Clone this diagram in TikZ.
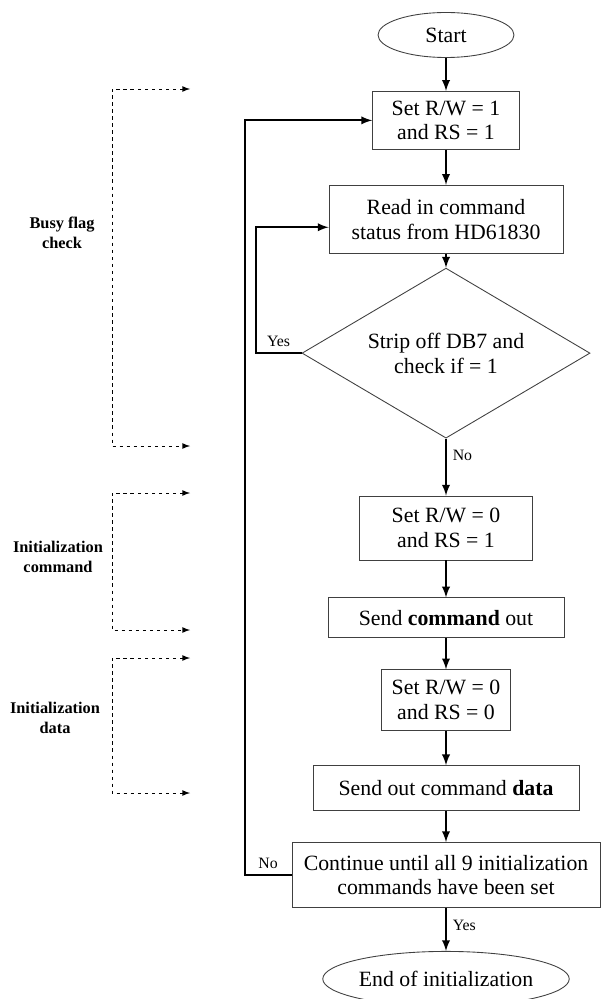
\documentclass[tikz,border=0pt]{standalone}
\usepackage{fontspec}
\setmainfont{Liberation Serif}
\usetikzlibrary{positioning,shapes.geometric}

\begin{document}
\begin{tikzpicture}[
  every node/.style={font=\fontsize{12.4}{14.2}\selectfont},
  %  Définition des styles pour les cadres
  boite_style/.style={rectangle, draw=black!75, line width=0.5pt, inner sep=2pt, align=center},
  ovale_style/.style={ellipse, draw=black!75, line width=0.5pt, inner sep=0pt},
  test_style/.style={diamond, draw=black!75, line width=0.5pt, inner sep=0pt, aspect=1.7, align=center},
  %  Styles des liaisons et des étiquettes
  fleche_style/.style={draw, line width=1.1pt, -latex},
  pointille_style/.style={draw, line width=0.5pt, dash pattern=on 2pt off 2pt, latex-latex},
  oui_non_style/.style={font=\fontsize{9}{10}\selectfont},
  groupe_style/.style={font=\fontsize{9.3}{11.4}\selectfont\bfseries, align=center}
]
\useasboundingbox (0,0) rectangle (12,-19.98);

%  Colonne principale
\node[ovale_style, minimum width=2.72cm, minimum height=0.9cm] (start) at (8.92,-0.70) {Start};
\node[boite_style, minimum width=2.94cm, minimum height=1.16cm, below=0.66cm of start] (setone) {Set R/W = 1\\and RS = 1};
\node[boite_style, minimum width=4.68cm, minimum height=1.36cm, below=0.70cm of setone] (readstatus) {Read in command\\status from HD61830};
\node[test_style, minimum width=5.76cm, minimum height=3.40cm, below=0.28cm of readstatus] (check) {Strip off DB7 and\\check if = 1};
\node[boite_style, minimum width=3.46cm, minimum height=1.28cm, below=1.14cm of check] (setcmd) {Set R/W = 0\\and RS = 1};
\node[boite_style, minimum width=4.72cm, minimum height=0.80cm, below=0.74cm of setcmd] (sendcmd) {Send \textbf{command} out};
\node[boite_style, minimum width=2.58cm, minimum height=1.22cm, below=0.62cm of sendcmd] (setdata) {Set R/W = 0\\and RS = 0};
\node[boite_style, minimum width=5.32cm, minimum height=0.90cm, below=0.68cm of setdata] (senddata) {Send out command \textbf{data}};
\node[boite_style, minimum width=6.16cm, minimum height=1.30cm, below=0.62cm of senddata] (allcmds) {Continue until all 9 initialization\\commands have been set};
\node[ovale_style, minimum width=4.14cm, minimum height=1.10cm, below=0.86cm of allcmds] (finish) {End of initialization};

%  Liaisons
\draw[fleche_style] (start) -- (setone);
\draw[fleche_style] (setone) -- (readstatus);
\draw[fleche_style] (readstatus) -- (check);
\draw[fleche_style] (check) -- node[oui_non_style, right, pos=0.3] {No} (setcmd);
\draw[fleche_style] (setcmd) -- (sendcmd);
\draw[fleche_style] (sendcmd) -- (setdata);
\draw[fleche_style] (setdata) -- (senddata);
\draw[fleche_style] (senddata) -- (allcmds);
\draw[fleche_style] (allcmds) -- node[oui_non_style, right, pos=0.4] {Yes} (finish);

%  Boucles de retour
\draw[fleche_style] (check.west) -- ++(-0.92,0) node[oui_non_style, above, midway] {Yes}
    |- ([yshift=-0.16cm]readstatus.west);
\draw[fleche_style] (allcmds.west) -- ++(-0.94,0) node[oui_non_style, above, midway] {No}
    |- (setone.west);

%  Groupes à gauche
\node[groupe_style] (busy) at (1.24,-4.66) {Busy flag\\check};
\coordinate (busy_haut) at (3.80,-1.78);
\coordinate (busy_coin_haut) at (2.24,-1.78);
\coordinate (busy_coin_bas) at (2.24,-8.92);
\coordinate (busy_bas) at (3.80,-8.92);
\draw[pointille_style] (busy_haut) -- (busy_coin_haut) -- (busy_coin_bas) -- (busy_bas);

\node[groupe_style] (initcmd) at (1.16,-11.14) {Initialization\\command};
\coordinate (cmd_haut) at (3.80,-9.86);
\coordinate (cmd_coin_haut) at (2.24,-9.86);
\coordinate (cmd_coin_bas) at (2.24,-12.60);
\coordinate (cmd_bas) at (3.80,-12.60);
\draw[pointille_style] (cmd_haut) -- (cmd_coin_haut) -- (cmd_coin_bas) -- (cmd_bas);

\node[groupe_style] (initdata) at (1.10,-14.36) {Initialization\\data};
\coordinate (data_haut) at (3.80,-13.16);
\coordinate (data_coin_haut) at (2.24,-13.16);
\coordinate (data_coin_bas) at (2.24,-15.86);
\coordinate (data_bas) at (3.80,-15.86);
\draw[pointille_style] (data_haut) -- (data_coin_haut) -- (data_coin_bas) -- (data_bas);
\end{tikzpicture}
\end{document}
